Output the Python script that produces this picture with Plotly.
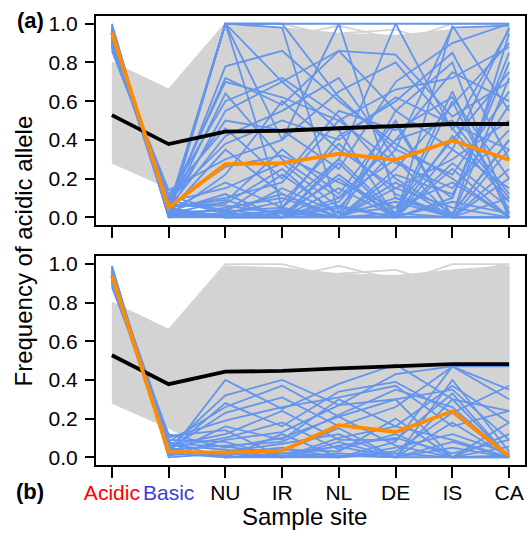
import plotly.graph_objects as go

sites = ["Acidic", "Basic", "NU", "IR", "NL", "DE", "IS", "CA"]
site_colors = ["#ff0000", "#3b3bd9", "black", "black", "black", "black", "black", "black"]

# envelope of the many grey (all-loci) lines
gray_upper = [0.80, 0.66, 0.99, 0.98, 0.95, 0.94, 0.97, 0.99]
gray_lower = [0.28, 0.15, 0.00, 0.00, 0.00, 0.00, 0.00, 0.00]
gray_edge_lines = [
    [0.80, 0.66, 1.00, 1.00, 0.93, 0.90, 0.95, 1.00],
    [0.70, 0.50, 0.95, 0.93, 0.99, 0.92, 0.90, 0.98],
    [0.60, 0.55, 0.90, 0.90, 0.95, 0.97, 0.88, 0.95],
    [0.70, 0.60, 0.92, 0.88, 0.90, 0.90, 1.00, 1.00],
]

mean_all = [0.528, 0.378, 0.443, 0.447, 0.460, 0.469, 0.482, 0.482]

orange_a = [0.955, 0.050, 0.274, 0.280, 0.328, 0.297, 0.397, 0.297]
orange_b = [0.943, 0.028, 0.024, 0.034, 0.166, 0.131, 0.238, 0.007]

blue_a = [
    [0.98, 0.02, 1.00, 1.00, 1.00, 1.00, 1.00, 1.00],
    [0.97, 0.03, 1.00, 1.00, 0.62, 0.35, 0.98, 0.99],
    [0.99, 0.01, 1.00, 0.05, 0.30, 1.00, 0.45, 0.97],
    [0.95, 0.04, 1.00, 0.40, 1.00, 0.10, 0.00, 0.95],
    [0.96, 0.02, 1.00, 0.98, 0.02, 0.55, 0.80, 0.02],
    [0.93, 0.05, 1.00, 0.70, 0.45, 0.00, 0.99, 0.55],
    [0.92, 0.03, 0.78, 0.86, 0.60, 0.38, 0.20, 0.00],
    [0.90, 0.06, 0.72, 0.58, 0.86, 0.84, 0.52, 0.70],
    [0.94, 0.08, 0.70, 0.62, 0.50, 0.66, 0.72, 0.88],
    [0.91, 0.04, 0.64, 0.30, 0.10, 0.40, 0.75, 0.60],
    [0.89, 0.10, 0.60, 0.72, 0.52, 0.20, 0.02, 0.40],
    [0.97, 0.02, 0.55, 0.70, 0.86, 0.55, 0.35, 0.15],
    [0.90, 0.07, 0.50, 0.45, 0.25, 0.70, 0.90, 1.00],
    [0.88, 0.12, 0.46, 0.20, 0.55, 0.45, 0.62, 0.20],
    [0.95, 0.05, 0.42, 0.55, 0.72, 0.30, 0.10, 0.80],
    [0.93, 0.09, 0.38, 0.50, 0.40, 0.62, 0.48, 0.35],
    [0.96, 0.03, 0.35, 0.12, 0.00, 0.25, 0.58, 0.90],
    [0.87, 0.14, 0.30, 0.40, 0.65, 0.80, 0.46, 0.10],
    [0.92, 0.06, 0.26, 0.32, 0.18, 0.05, 0.40, 0.75],
    [0.98, 0.01, 0.22, 0.60, 0.35, 0.15, 0.30, 0.50],
    [0.94, 0.04, 0.18, 0.05, 0.42, 0.60, 0.85, 0.30],
    [0.89, 0.08, 0.15, 0.28, 0.05, 0.35, 0.22, 0.65],
    [0.97, 0.03, 0.12, 0.00, 0.30, 0.02, 0.65, 0.00],
    [0.91, 0.05, 0.10, 0.18, 0.50, 0.28, 0.15, 0.45],
    [0.95, 0.02, 0.08, 0.35, 0.12, 0.50, 0.00, 0.25],
    [0.93, 0.06, 0.06, 0.02, 0.20, 0.00, 0.35, 0.98],
    [0.99, 0.00, 0.05, 0.10, 0.00, 0.15, 0.05, 0.00],
    [0.90, 0.07, 0.04, 0.00, 0.08, 0.40, 0.50, 0.12],
    [0.96, 0.03, 0.03, 0.22, 0.02, 0.08, 0.00, 0.35],
    [0.92, 0.01, 0.02, 0.00, 0.15, 0.00, 0.28, 0.05],
    [0.88, 0.09, 0.02, 0.08, 0.38, 0.12, 0.00, 0.00],
    [0.95, 0.04, 0.01, 0.03, 0.00, 0.22, 0.12, 0.58],
    [0.97, 0.02, 0.00, 0.00, 0.05, 0.00, 0.00, 0.20],
    [0.90, 0.05, 0.00, 0.15, 0.02, 0.05, 0.18, 0.00],
    [0.94, 0.02, 0.00, 0.02, 0.00, 0.00, 0.08, 0.02],
    [0.99, 0.00, 0.01, 0.00, 0.10, 0.30, 0.00, 0.00],
    [0.86, 0.11, 0.03, 0.05, 0.00, 0.00, 0.42, 0.08],
    [0.93, 0.03, 0.00, 0.00, 0.00, 0.10, 0.02, 0.40],
    [0.91, 0.06, 0.07, 0.25, 0.00, 0.02, 0.00, 0.00],
    [0.96, 0.01, 0.02, 0.00, 0.22, 0.00, 0.60, 0.02],
    [0.94, 0.03, 0.00, 0.04, 0.00, 0.18, 0.00, 0.72],
    [1.00, 0.00, 0.00, 0.00, 0.00, 0.00, 0.00, 0.00],
    [0.89, 0.05, 0.09, 0.00, 0.28, 0.00, 0.25, 0.00],
    [0.95, 0.02, 0.04, 0.12, 0.00, 0.48, 0.00, 0.10],
    [0.92, 0.04, 0.00, 0.00, 0.06, 0.00, 0.10, 0.85],
]

blue_b = [
    [0.98, 0.02, 0.40, 0.25, 0.38, 0.48, 0.30, 0.00],
    [0.95, 0.05, 0.32, 0.40, 0.27, 0.43, 0.47, 0.47],
    [0.97, 0.03, 0.28, 0.16, 0.34, 0.39, 0.23, 0.37],
    [0.92, 0.08, 0.26, 0.37, 0.21, 0.30, 0.35, 0.09],
    [0.94, 0.04, 0.23, 0.31, 0.16, 0.26, 0.47, 0.35],
    [0.90, 0.10, 0.19, 0.26, 0.31, 0.37, 0.16, 0.24],
    [0.96, 0.02, 0.16, 0.09, 0.30, 0.16, 0.37, 0.18],
    [0.93, 0.06, 0.12, 0.24, 0.09, 0.09, 0.33, 0.00],
    [0.99, 0.01, 0.09, 0.13, 0.27, 0.30, 0.00, 0.055],
    [0.91, 0.07, 0.055, 0.02, 0.055, 0.00, 0.30, 0.24],
    [0.97, 0.03, 0.02, 0.00, 0.10, 0.16, 0.09, 0.00],
    [0.94, 0.05, 0.00, 0.02, 0.01, 0.00, 0.00, 0.18],
    [0.88, 0.12, 0.05, 0.10, 0.21, 0.06, 0.00, 0.00],
    [0.96, 0.02, 0.02, 0.05, 0.00, 0.03, 0.23, 0.00],
    [0.93, 0.04, 0.00, 0.00, 0.06, 0.10, 0.02, 0.09],
    [0.98, 0.01, 0.03, 0.07, 0.12, 0.00, 0.05, 0.00],
    [0.90, 0.09, 0.08, 0.00, 0.00, 0.05, 0.12, 0.02],
    [0.95, 0.03, 0.01, 0.04, 0.03, 0.20, 0.00, 0.00],
    [0.97, 0.06, 0.04, 0.00, 0.08, 0.00, 0.40, 0.03],
    [0.92, 0.02, 0.00, 0.12, 0.00, 0.02, 0.00, 0.12],
    [0.99, 0.00, 0.02, 0.03, 0.15, 0.00, 0.08, 0.00],
    [0.91, 0.05, 0.10, 0.18, 0.04, 0.12, 0.00, 0.01],
    [0.94, 0.11, 0.14, 0.00, 0.02, 0.00, 0.18, 0.00],
    [0.96, 0.04, 0.06, 0.08, 0.22, 0.35, 0.26, 0.00],
    [0.89, 0.08, 0.00, 0.01, 0.00, 0.08, 0.47, 0.30],
]

FONT = "Liberation Sans, Arial, Helvetica, sans-serif"
GRAY = "#d3d3d3"
BLUE = "#6495ed"
ORANGE = "#ff8c00"
xs = list(range(len(sites)))


def multi_line(rows):
    X, Y = [], []
    for r in rows:
        X += xs + [None]
        Y += list(r) + [None]
    return X, Y


fig = go.Figure()
for xa, ya, blue, orange in [("x", "y", blue_a, orange_a), ("x2", "y2", blue_b, orange_b)]:
    fig.add_trace(go.Scatter(x=xs + xs[::-1], y=gray_upper + gray_lower[::-1], fill="toself",
                             fillcolor=GRAY, line=dict(color=GRAY, width=1), mode="lines",
                             xaxis=xa, yaxis=ya, hoverinfo="skip"))
    gx, gy = multi_line(gray_edge_lines)
    fig.add_trace(go.Scatter(x=gx, y=gy, mode="lines", line=dict(color=GRAY, width=1.8),
                             xaxis=xa, yaxis=ya, hoverinfo="skip"))
    bx, by = multi_line(blue)
    fig.add_trace(go.Scatter(x=bx, y=by, mode="lines", line=dict(color=BLUE, width=1.8),
                             xaxis=xa, yaxis=ya))
    fig.add_trace(go.Scatter(x=xs, y=mean_all, mode="lines", line=dict(color="black", width=3.8),
                             xaxis=xa, yaxis=ya))
    fig.add_trace(go.Scatter(x=xs, y=orange, mode="lines", line=dict(color=ORANGE, width=3.8),
                             xaxis=xa, yaxis=ya))

ticktext = [f"<span style='color:{c}'>{s}</span>" for s, c in zip(sites, site_colors)]

xcommon = dict(range=[-0.28, 7.28], tickvals=xs, ticks="outside", ticklen=11, tickwidth=1.6,
               tickcolor="black", showline=True, mirror=True, linecolor="black", linewidth=2,
               showgrid=False, zeroline=False, fixedrange=True,
               tickfont=dict(family=FONT, size=21, color="black"))
ycommon = dict(range=[-0.04, 1.04], tickvals=[0, 0.2, 0.4, 0.6, 0.8, 1.0],
               ticktext=["0.0", "0.2", "0.4", "0.6", "0.8", "1.0"], ticks="outside", ticklen=9,
               tickwidth=1.6, tickcolor="black", showline=True, mirror=True, linecolor="black",
               linewidth=2, showgrid=False, zeroline=False, ticklabelstandoff=3, fixedrange=True,
               tickfont=dict(family=FONT, size=21, color="black"))

fig.update_layout(
    width=528, height=537, autosize=False,
    margin=dict(l=96, r=1, t=16, b=72),
    paper_bgcolor="white", plot_bgcolor="white",
    showlegend=False, hovermode=False,
    xaxis=dict(**xcommon, anchor="y", domain=[0, 1], showticklabels=False),
    yaxis=dict(**ycommon, anchor="x", domain=[0.5345, 1]),
    xaxis2=dict(**xcommon, anchor="y2", domain=[0, 1], ticktext=ticktext, ticklabelstandoff=-3),
    yaxis2=dict(**ycommon, anchor="x2", domain=[0, 0.4648]),
    annotations=[
        dict(text="Frequency of acidic allele", xref="paper", yref="paper", x=-0.169, y=0.4766,
             textangle=-90, showarrow=False, xanchor="center", yanchor="middle",
             font=dict(family=FONT, size=24, color="black")),
        dict(text="Sample site", xref="paper", yref="paper", x=0.487, y=-0.1158,
             showarrow=False, xanchor="center", yanchor="middle",
             font=dict(family=FONT, size=24, color="black")),
        dict(text="<b>(a)</b>", xref="paper", yref="paper", x=-0.153, y=0.991,
             showarrow=False, xanchor="center", yanchor="middle",
             font=dict(family=FONT, size=22, color="black")),
        dict(text="<b>(b)</b>", xref="paper", yref="paper", x=-0.153, y=-0.060,
             showarrow=False, xanchor="center", yanchor="middle",
             font=dict(family=FONT, size=22, color="black")),
    ],
)

fig.write_html("out.html", config={"displayModeBar": False},
               post_script="document.body.style.margin='0';document.body.style.overflow='hidden';")
